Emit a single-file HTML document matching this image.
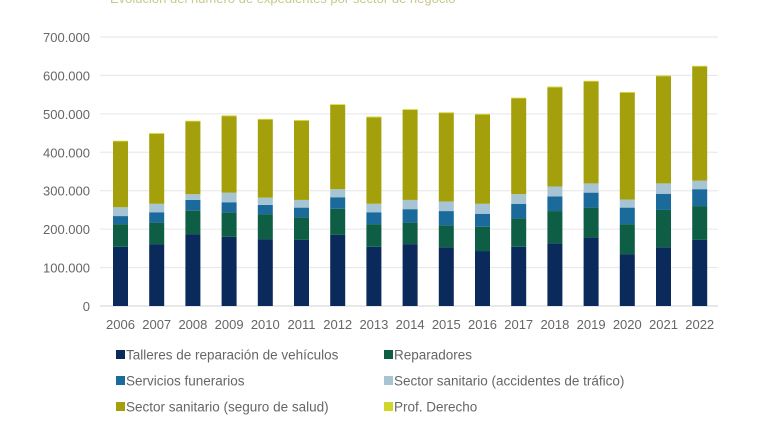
<!DOCTYPE html>
<html><head><meta charset="utf-8"><style>
body{margin:0;background:#fff;width:780px;height:440px;overflow:hidden;font-family:"Liberation Sans",sans-serif}
</style></head><body>
<svg id="c" width="780" height="440" style="font-family:'Liberation Sans',sans-serif">
<text x="110" y="3" fill="#c9c98a" font-size="13">Evolución del número de expedientes por sector de negocio</text>
<g id="grid"></g><g id="bars"></g><g id="labels"></g><g id="legend"></g>
</svg>
<script>
const years=["2006","2007","2008","2009","2010","2011","2012","2013","2014","2015","2016","2017","2018","2019","2020","2021","2022"];
const talleres=[154,161,187,180,174,172,185,154,161,153,143,154,163,178,135,153,172];
const reparadores=[59,56,61,64,65,59,68,59,56,57,63,74,84,78,78,97,88];
const funerarios=[21,27,28,26,24,25,30,31,35,37,34,38,38,39,43,42,44];
const accidentes=[23,22,15,25,19,20,21,22,24,25,26,25,26,24,21,27,22];
const salud=[171,182,189,199,203,206,219,225,234,230,232,249,258,265,278,279,297];
const derecho=[2,2,2,2,2,2,2,2,2,2,2,2,2,2,2,2,2];
const ticks=["0","100.000","200.000","300.000","400.000","500.000","600.000","700.000"];
const series=[["Talleres de reparación de vehículos",talleres,"#0b2a5c"],["Reparadores",reparadores,"#0e5e45"],["Servicios funerarios",funerarios,"#1b6a9c"],["Sector sanitario (accidentes de tráfico)",accidentes,"#a7c4d4"],["Sector sanitario (seguro de salud)",salud,"#a4a00c"],["Prof. Derecho",derecho,"#d2d52a"]];
const NS="http://www.w3.org/2000/svg";
const y0=306,pxPer=38.43/100,x0=120.5,step=36.2,bw=15;
const Y=v=>y0-v*pxPer, X=i=>x0+i*step;
function mk(t,a,p){const e=document.createElementNS(NS,t);for(const k in a)e.setAttribute(k,a[k]);p.appendChild(e);return e;}
const grid=document.getElementById('grid'),bars=document.getElementById('bars'),labels=document.getElementById('labels'),legend=document.getElementById('legend');
ticks.forEach((t,i)=>{const y=Y(i*100);
const l=mk('line',{x1:100,x2:718,y1:y,y2:y,stroke:i?'#e6e6e6':'#d0d0d0','stroke-width':1},grid);


const tx=mk('text',{x:90,y:y+5,'text-anchor':'end','font-size':13,fill:'#666'},labels);tx.textContent=t;

});
years.forEach((yr,i)=>{let cum=0;
series.forEach(s=>{const v=s[1][i];const r=mk('rect',{x:X(i)-bw/2,y:Y(cum+v),width:bw,height:v*pxPer,fill:s[2]},bars);cum+=v;

});
const tx=mk('text',{x:X(i),y:329,'text-anchor':'middle','font-size':13,fill:'#666'},labels);tx.textContent=yr;

});
series.forEach((s,k)=>{const col=k%2,row=Math.floor(k/2);const x=col?384:116,y=355+row*26;
const g=mk('g',{},legend);


mk('rect',{x:x,y:y-5,width:9,height:9,fill:s[2]},g);
const t=mk('text',{x:x+10,y:y+4.5,'font-size':13.5,fill:'#666'},g);t.textContent=s[0];});
</script>
</body></html>
